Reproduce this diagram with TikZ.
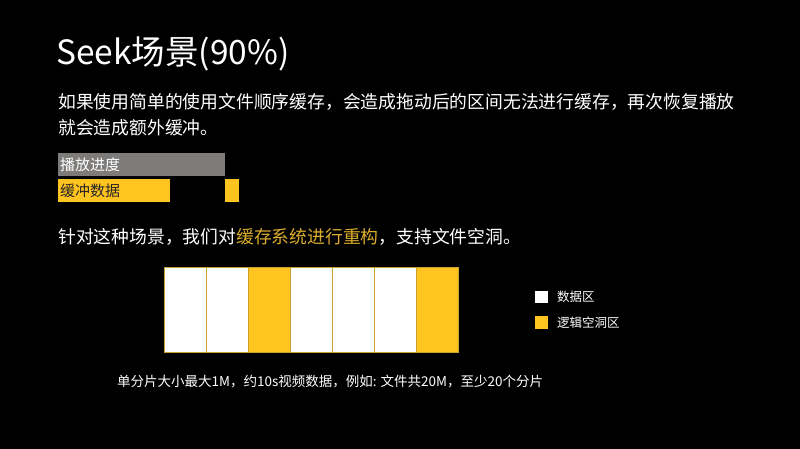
\documentclass[tikz,border=0pt]{standalone}
\usepackage{fontspec}
\setmainfont{Noto Sans CJK SC}
\definecolor{ylw}{HTML}{FFC41F}
\definecolor{gold}{HTML}{DDAE2C}
\definecolor{barg}{HTML}{7E7C7A}
\definecolor{edge}{HTML}{C8A02A}
\begin{document}
\begin{tikzpicture}[x=1pt,y=-1pt,
  txt/.style={anchor=west,inner sep=0pt,text=white},
  cellw/.style={fill=white,draw=edge,line width=0.7pt},
  celly/.style={fill=ylw,draw=edge,line width=0.7pt}]
\fill[black] (0,0) rectangle (800,449);
\useasboundingbox (0,0) rectangle (800,449);
% title
\node[anchor=base west,inner sep=0pt,text=white,font=\fontsize{33.5}{33.5}\selectfont] (title) at (56,65) {Seek场景(90\%)};
% paragraph
\node[txt,font=\fontsize{17.8}{17.8}\selectfont] (p1) at (58,101.5) {如果使用简单的使用文件顺序缓存，会造成拖动后的区间无法进行缓存，再次恢复播放};
\node[txt,font=\fontsize{17.8}{17.8}\selectfont] (p2) at (58,127.5) {就会造成额外缓冲。};
% bars
\fill[barg] (58,153) rectangle (225,176);
\node[txt,font=\fontsize{15}{15}\selectfont] (play) at (60,164.5) {播放进度};
\fill[ylw] (58,179) rectangle (170,202);
\fill[ylw] (225,179) rectangle (239,202);
\node[txt,text=black!85,font=\fontsize{15}{15}\selectfont] (buf) at (60,190.5) {缓冲数据};
% statement
\node[txt,font=\fontsize{17.8}{17.8}\selectfont] (p3) at (58,237) {针对这种场景，我们对\textcolor{gold}{缓存系统进行重构}，支持文件空洞。};
% cells
\foreach \i/\s in {0/cellw,1/cellw,2/celly,3/cellw,4/cellw,5/cellw,6/celly}{
  \draw[\s] ({164+42*\i},267) rectangle ({206+42*\i},352);
}
\draw[edge,line width=0.8pt] (164,267) rectangle (458,352);
% legend
\fill[white] (535,291) rectangle (548,303);
\node[txt,font=\fontsize{12.5}{12.5}\selectfont] (l1) at (557,297) {数据区};
\fill[ylw] (535,316) rectangle (548,329);
\node[txt,font=\fontsize{12.5}{12.5}\selectfont] (l2) at (557,322.5) {逻辑空洞区};
% note
\node[txt,font=\fontsize{13.5}{13.5}\selectfont] (note) at (117,382) {单分片大小最大1M，约10s视频数据，例如: 文件共20M，至少20个分片};
\end{tikzpicture}
\end{document}
